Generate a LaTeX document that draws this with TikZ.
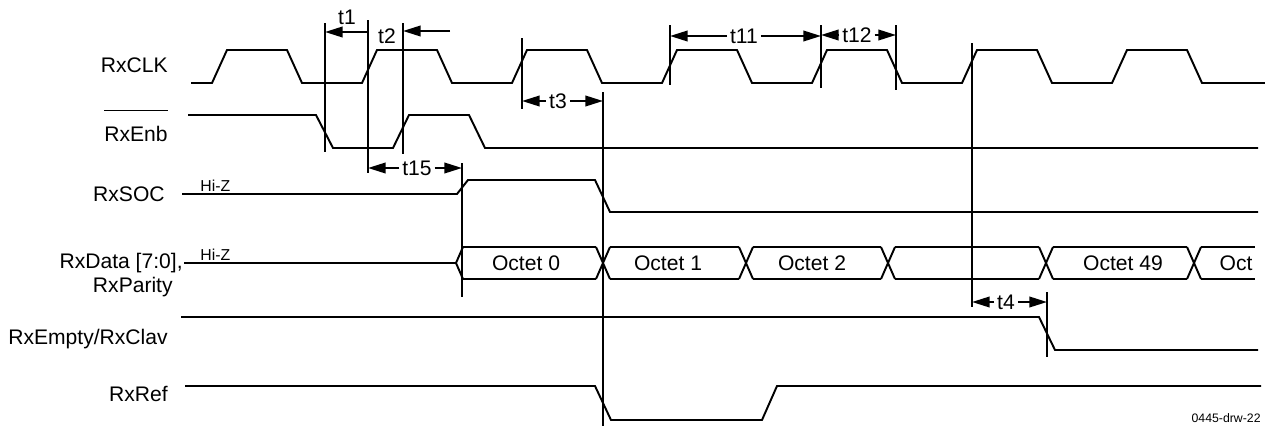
\documentclass[tikz,border=0pt]{standalone}
\usepackage{fontspec}
\setmainfont{Liberation Sans}
\usetikzlibrary{arrows.meta}
\begin{document}
\begin{tikzpicture}[x=0.02cm,y=-0.02cm]
\tikzstyle{wave} = [line width=1.1pt];
\tikzstyle{guide} = [line width=1.1pt];
\tikzstyle{dim} = [-{Triangle[length=10pt,width=6pt]},line width=1.1pt];
\tikzstyle{sig} = [anchor=base east,inner sep=0pt,font=\fontsize{12}{14}\selectfont];
\tikzstyle{tlabel} = [inner sep=1.5pt,font=\fontsize{12}{14}\selectfont];
\tikzstyle{hiz} = [anchor=base west,inner sep=0pt,font=\fontsize{9}{10}\selectfont];
\tikzstyle{octet} = [font=\fontsize{12}{14}\selectfont];

\useasboundingbox (0,0) rectangle (1265,426);

% signal names
\node [sig] (clk) at (168,72) {RxCLK};
\node [sig] (enb) at (168,141) {RxEnb};
\draw [line width=0.6pt] ([yshift=8.5pt]enb.north west) -- ([yshift=8.5pt]enb.north east);
\node [sig] (soc) at (165,201) {RxSOC};
\node [sig] (data) at (183,268) {RxData [7:0],};
\node [sig] (parity) at (173,292) {RxParity};
\node [sig] (empty) at (168,344) {RxEmpty/RxClav};
\node [sig] (ref) at (168,401) {RxRef};
\node [hiz] (hz1) at (200,191) {Hi-Z};
\node [hiz] (hz2) at (200,260) {Hi-Z};

% waveforms
\draw [wave] (191,83) foreach \k in {0,...,6} { -- ({212+150*\k},83) -- ({227+150*\k},50) -- ({287+150*\k},50) -- ({302+150*\k},83) } -- (1265,83);
\draw [wave] (188,115) -- (316,115) -- (333,148) -- (393,148) -- (409,115) -- (469,115) -- (485,148) -- (1258,148);
\draw [wave] (182,194) -- (457,194) -- (468,180) -- (595,180) -- (610,212) -- (1258,212);
\draw [wave] (184,263) -- (456,263);
\draw [wave] (463,247) -- (456,263) -- (463,279);
\foreach \a/\b in {463/596,610/739,753/881,895/1039,1053/1187,1201/1255}
  \draw [wave] (\a,247) -- (\b,247) (\a,279) -- (\b,279);
\foreach \c in {603,746,888,1046,1194}
  \draw [wave] (\c-7,247) -- (\c+7,279) (\c-7,279) -- (\c+7,247);
\draw [wave] (181,317) -- (1039,317) -- (1055,350) -- (1258,350);
\draw [wave] (185,386) -- (595,386) -- (611,420) -- (762,420) -- (777,386) -- (1261,386);

\node [octet] (o0) at (526,263) {Octet 0};
\node [octet] (o1) at (668,263) {Octet 1};
\node [octet] (o2) at (812,263) {Octet 2};
\node [octet] (o49) at (1123,263) {Octet 49};
\node [octet] (o50) at (1236,263) {Oct};

% timing marks
\draw [guide] (325,23) -- (325,152);
\draw [guide] (368,20) -- (368,173);
\draw [guide] (403,23) -- (403,154);
\draw [guide] (522,38) -- (522,109);
\draw [guide] (603,92) -- (603,426);
\draw [guide] (670,25) -- (670,85);
\draw [guide] (821,25) -- (821,88);
\draw [guide] (896,25) -- (896,90);
\draw [guide] (462,163) -- (462,297);
\draw [guide] (972,43) -- (972,307);
\draw [guide] (1047,292) -- (1047,357);

\node [tlabel] (t1) at (347,17) {t1};
\draw [dim,{Triangle[length=10pt,width=6pt]}-] (325,32) -- (368,32);
\node [tlabel] (t2) at (387,36) {t2};
\draw [dim] (450,31) -- (403,31);
\node [tlabel] (t3) at (558,101) {t3};
\draw [dim] (t3) -- (522,101);
\draw [dim] (t3) -- (603,101);
\node [tlabel] (t11) at (744,36) {t11};
\draw [dim] (t11) -- (670,36);
\draw [dim] (t11) -- (821,36);
\node [tlabel] (t12) at (857,35) {t12};
\draw [dim] (t12) -- (821,35);
\draw [dim] (t12) -- (896,35);
\node [tlabel] (t15) at (417,168) {t15};
\draw [dim] (t15) -- (368,168);
\draw [dim] (t15) -- (462,168);
\node [tlabel] (t4) at (1006,302) {t4};
\draw [dim] (t4) -- (972,302);
\draw [dim] (t4) -- (1047,302);

\node [anchor=north east,inner sep=0pt,font=\fontsize{7}{8}\selectfont] (dwg) at (1261,413) {0445-drw-22};
\end{tikzpicture}
\end{document}
